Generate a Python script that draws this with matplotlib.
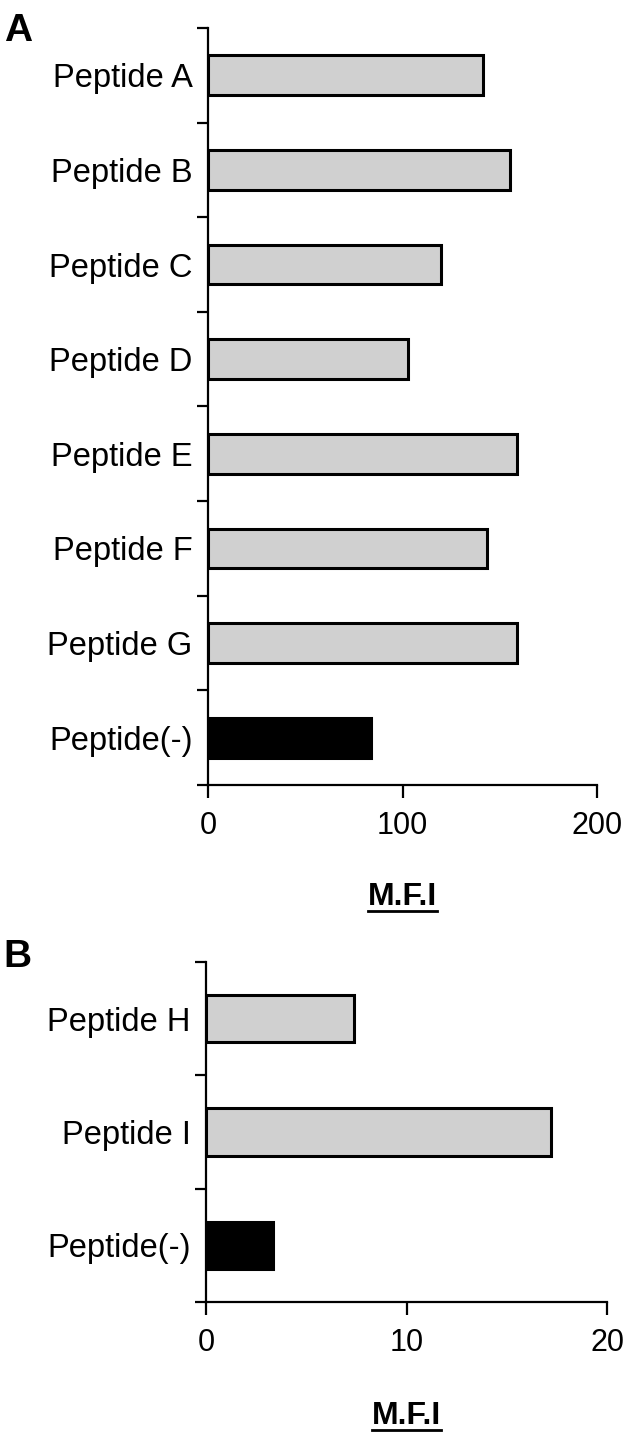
import matplotlib
matplotlib.use("Agg")
import matplotlib.pyplot as plt
from matplotlib.lines import Line2D
from matplotlib.ticker import FixedLocator

plt.rcParams['font.family'] = ['Liberation Sans', 'DejaVu Sans']

# panel A
labels_a = ["Peptide A", "Peptide B", "Peptide C", "Peptide D",
            "Peptide E", "Peptide F", "Peptide G", "Peptide(-)"]
mfi_a = [141.4, 155.3, 119.8, 102.8, 158.9, 143.4, 159.0, 83.8]
colors_a = ["#d0d0d0"] * 7 + ["black"]
xticks_a = [0, 100, 200]

# panel B
labels_b = ["Peptide H", "Peptide I", "Peptide(-)"]
mfi_b = [7.4, 17.2, 3.34]
colors_b = ["#d0d0d0", "#d0d0d0", "black"]
xticks_b = [0, 10, 20]


def draw_panel(ax, labels, values, colors, xticks, labelpad):
    n = len(labels)
    pos = list(range(n))
    ax.barh(pos, values, height=0.42, color=colors, edgecolor="black",
            linewidth=2.2, zorder=3)
    ax.set_ylim(n - 0.5, -0.5)
    ax.set_xlim(xticks[0], xticks[-1])
    ax.set_yticks(pos)
    ax.set_yticklabels(labels, fontsize=23.5)
    ax.yaxis.set_minor_locator(FixedLocator([p - 0.5 for p in range(n + 1)]))
    ax.tick_params(axis="y", which="major", length=0, pad=11)
    ax.tick_params(axis="y", which="minor", length=8, width=1.6)
    ax.set_xticks(xticks)
    ax.set_xticklabels([str(t) for t in xticks], fontsize=22)
    ax.tick_params(axis="x", length=9, width=1.6, pad=10)
    for s in ("top", "right"):
        ax.spines[s].set_visible(False)
    for s in ("left", "bottom"):
        ax.spines[s].set_linewidth(1.6)
    ax.set_xlabel("M.F.I", fontsize=23, fontweight="bold", labelpad=labelpad)


fig = plt.figure(figsize=(6.3, 14.35), dpi=100)
ax_a = fig.add_axes([0.330, 0.4530, 0.618, 0.5275])
ax_b = fig.add_axes([0.327, 0.0927, 0.6365, 0.2369])

draw_panel(ax_a, labels_a, mfi_a, colors_a, xticks_a, 29)
draw_panel(ax_b, labels_b, mfi_b, colors_b, xticks_b, 31)

fig.text(0.006, 0.991, "A", fontsize=28, fontweight="bold", va="top")
fig.text(0.006, 0.3455, "B", fontsize=28, fontweight="bold", va="top")

# underline the axis labels
fig.canvas.draw()
renderer = fig.canvas.get_renderer()
for ax in (ax_a, ax_b):
    bb = ax.xaxis.label.get_window_extent(renderer)
    y = bb.y0 + 1
    fig.add_artist(Line2D([bb.x0, bb.x1], [y, y], color="black",
                          linewidth=2, transform=None))

fig.savefig("out.png", dpi=100)
